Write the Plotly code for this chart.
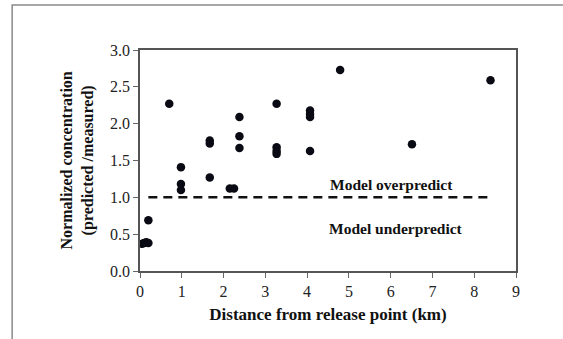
import plotly.graph_objects as go

# Data
distance_km = [0.05, 0.10, 0.15, 0.20, 0.20, 0.70, 0.98, 0.98, 0.98,
               1.67, 1.67, 1.67, 2.15, 2.25, 2.38, 2.38, 2.38,
               3.27, 3.27, 3.27, 3.27, 4.07, 4.07, 4.07, 4.07,
               4.79, 6.51, 8.39]
normalized_conc = [0.37, 0.38, 0.39, 0.38, 0.69, 2.27, 1.41, 1.18, 1.10,
                   1.77, 1.73, 1.27, 1.12, 1.12, 2.09, 1.83, 1.67,
                   2.27, 1.68, 1.63, 1.59, 2.18, 2.13, 2.09, 1.63,
                   2.73, 1.72, 2.59]
ref_x = [0.2, 8.4]
ref_y = [1.0, 1.0]
x_ticks = [0, 1, 2, 3, 4, 5, 6, 7, 8, 9]
y_ticks = [0.0, 0.5, 1.0, 1.5, 2.0, 2.5, 3.0]

serif = "Liberation Serif, Times New Roman, serif"

fig = go.Figure()
fig.add_trace(go.Scatter(
    x=ref_x, y=ref_y, mode="lines",
    line=dict(color="#111111", width=2.5, dash="9px,6px"),
    showlegend=False, hoverinfo="skip"))
fig.add_trace(go.Scatter(
    x=distance_km, y=normalized_conc, mode="markers",
    marker=dict(color="#0a0a14", size=8.5, line=dict(width=0)),
    showlegend=False))

fig.add_annotation(x=6.01, y=1.17, text="<b>Model overpredict</b>", showarrow=False,
                   font=dict(family=serif, size=15.5, color="#111"))
fig.add_annotation(x=6.13, y=0.58, text="<b>Model underpredict</b>", showarrow=False,
                   font=dict(family=serif, size=15.5, color="#111"))

# y-axis title as rotated annotation
fig.add_annotation(xref="paper", yref="paper", x=-0.165, y=0.5,
                   xanchor="center", yanchor="middle", textangle=-90,
                   text="<b>Normalized concentration<br>(predicted /measured)</b>",
                   showarrow=False, font=dict(family=serif, size=16, color="#111"))

# outer frame of the original image (top and left edges)
fig.add_shape(type="path", xref="paper", yref="paper",
              path="M -0.340 -1 L -0.340 1.2036 L 2 1.2036",
              line=dict(color="#8a8a8a", width=1.5))

fig.update_layout(
    width=563, height=339,
    margin=dict(l=140, r=47, t=50, b=68),
    paper_bgcolor="white", plot_bgcolor="white",
    font=dict(family=serif, color="#111"),
    xaxis=dict(range=[0, 9], tickvals=x_ticks, ticks="outside", ticklen=5,
               tickcolor="#666", showline=True, linecolor="#555", linewidth=1.5,
               mirror=True, showgrid=False, zeroline=False,
               tickfont=dict(family=serif, size=16, color="#222"),
               title=dict(text="<b>Distance from release point (km)</b>",
                          font=dict(family=serif, size=17, color="#111"), standoff=9)),
    yaxis=dict(range=[0, 3], tickvals=y_ticks, tickformat=".1f", ticks="outside",
               ticklen=5, tickcolor="#666", showline=True, linecolor="#555",
               linewidth=1.5, mirror=True, showgrid=False, zeroline=False,
               tickfont=dict(family=serif, size=16, color="#222")),
)

fig.write_html("out.html")
